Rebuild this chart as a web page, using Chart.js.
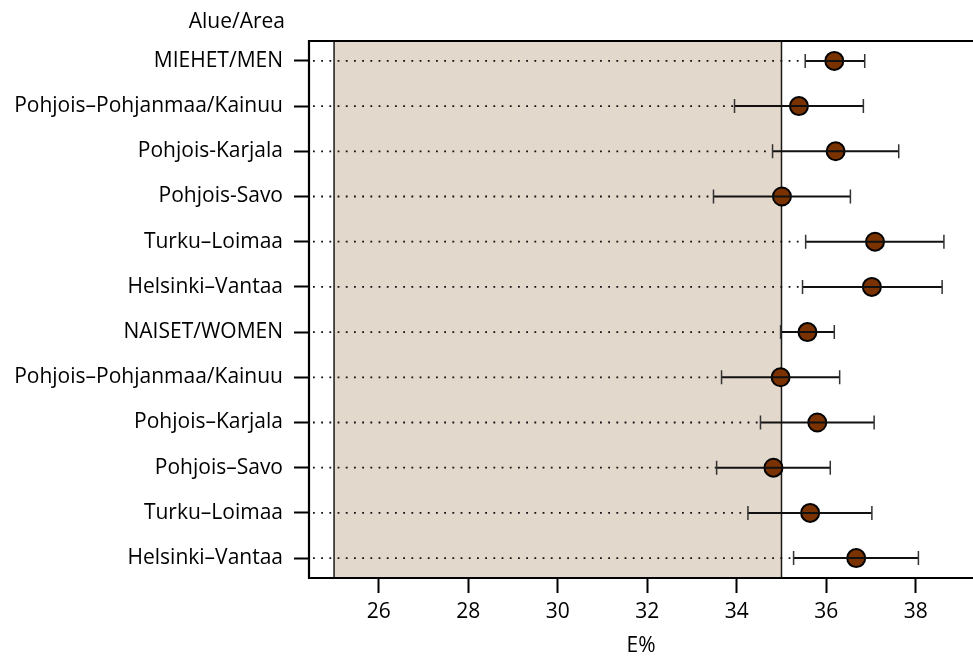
<!DOCTYPE html>
<html>
<head>
<meta charset="utf-8">
<script src="https://cdn.jsdelivr.net/npm/chart.js@4.4.1/dist/chart.umd.min.js"></script>
<style>
  body { margin: 0; background: #fff; }
  #wrap { width: 973px; height: 657px; }
</style>
</head>
<body>
<div id="wrap"><canvas id="dotChart" width="973" height="657"></canvas></div>
<script>
const categories = [
    'MIEHET/MEN',
    'Pohjois\u2013Pohjanmaa/Kainuu',
    'Pohjois-Karjala',
    'Pohjois-Savo',
    'Turku\u2013Loimaa',
    'Helsinki\u2013Vantaa',
    'NAISET/WOMEN',
    'Pohjois\u2013Pohjanmaa/Kainuu',
    'Pohjois\u2013Karjala',
    'Pohjois\u2013Savo',
    'Turku\u2013Loimaa',
    'Helsinki\u2013Vantaa'
];
const means = [36.18, 35.39, 36.21, 35.01, 37.09, 37.02, 35.58, 34.98, 35.80, 34.82, 35.64, 36.67];
const lower = [35.53, 33.95, 34.80, 33.48, 35.54, 35.47, 34.98, 33.66, 34.53, 33.55, 34.25, 35.27];
const upper = [36.86, 36.83, 37.62, 36.54, 38.63, 38.59, 36.18, 36.30, 37.07, 36.09, 37.02, 38.06];
const xTicks = [26, 28, 30, 32, 34, 36, 38];
const refBand = [25, 35];

const FONT = "'Open Sans', sans-serif";

// shaded reference band, dotted guides and the frame
const backdrop = {
    id: 'backdrop',
    beforeDatasetsDraw(chart) {
        const { ctx, chartArea: a, scales: { x, y } } = chart;
        const x0 = x.getPixelForValue(refBand[0]);
        const x1 = x.getPixelForValue(refBand[1]);
        ctx.save();
        ctx.fillStyle = '#e3d8cc';
        ctx.fillRect(x0, a.top, x1 - x0, a.bottom - a.top);
        ctx.strokeStyle = '#1a1a1a';
        ctx.lineWidth = 1.5;
        ctx.beginPath();
        ctx.moveTo(x0, a.top); ctx.lineTo(x0, a.bottom);
        ctx.moveTo(x1, a.top); ctx.lineTo(x1, a.bottom);
        ctx.stroke();

        // dotted line from the left edge to the lower limit
        ctx.strokeStyle = '#111';
        ctx.lineWidth = 1.8;
        ctx.setLineDash([1.8, 6.4]);
        means.forEach((m, i) => {
            const py = y.getPixelForValue(i);
            ctx.beginPath();
            ctx.moveTo(a.left + 4, py);
            ctx.lineTo(x.getPixelForValue(lower[i]), py);
            ctx.stroke();
        });
        ctx.restore();
    },
    afterDatasetsDraw(chart) {
        const { ctx, chartArea: a, scales: { x, y } } = chart;
        ctx.save();
        // confidence intervals on top of the points
        means.forEach((m, i) => {
            const py = y.getPixelForValue(i);
            const lx = x.getPixelForValue(lower[i]);
            const ux = x.getPixelForValue(upper[i]);
            ctx.strokeStyle = '#111';
            ctx.lineWidth = 2;
            ctx.beginPath();
            ctx.moveTo(lx, py); ctx.lineTo(ux, py);
            ctx.stroke();
            ctx.strokeStyle = '#333';
            ctx.lineWidth = 1.5;
            ctx.beginPath();
            ctx.moveTo(lx, py - 7); ctx.lineTo(lx, py + 7);
            ctx.moveTo(ux, py - 7); ctx.lineTo(ux, py + 7);
            ctx.stroke();
        });
        // frame: top, left, bottom (runs off the right side)
        ctx.strokeStyle = '#000';
        ctx.lineWidth = 2.2;
        ctx.beginPath();
        ctx.moveTo(chart.width, a.top);
        ctx.lineTo(a.left, a.top);
        ctx.lineTo(a.left, a.bottom);
        ctx.lineTo(chart.width, a.bottom);
        ctx.stroke();
        // header over the labels
        ctx.fillStyle = '#000';
        ctx.font = '21px ' + FONT;
        ctx.textAlign = 'right';
        ctx.textBaseline = 'middle';
        ctx.fillText('Alue/Area', 285, 22);
        ctx.restore();
    }
};

const ctx = document.getElementById('dotChart').getContext('2d');
new Chart(ctx, {
    type: 'scatter',
    data: {
        datasets: [{
            data: means.map((m, i) => ({ x: m, y: i })),
            backgroundColor: '#7a3300',
            borderColor: '#000',
            borderWidth: 2,
            pointRadius: 9,
            pointHoverRadius: 9
        }]
    },
    options: {
        responsive: false,
        animation: false,
        events: [],
        layout: { autoPadding: false, padding: { top: 41, right: 0, left: 0, bottom: 0 } },
        plugins: {
            legend: { display: false },
            tooltip: { enabled: false }
        },
        scales: {
            x: {
                type: 'linear',
                min: 24.44,
                max: 39.28,
                afterBuildTicks: s => { s.ticks = xTicks.map(v => ({ value: v })); },
                afterFit: s => { s.height = 79; s.paddingLeft = 0; s.paddingRight = 0; },
                border: { display: false },
                grid: {
                    drawOnChartArea: false,
                    drawTicks: true,
                    tickLength: 15,
                    tickWidth: 2,
                    tickColor: '#000'
                },
                ticks: {
                    autoSkip: false,
                    maxRotation: 0,
                    padding: 6,
                    color: '#000',
                    font: { family: FONT, size: 21 }
                },
                title: {
                    display: true,
                    text: 'E%',
                    color: '#000',
                    padding: { top: 0, bottom: 0 },
                    font: { family: FONT, size: 21, lineHeight: 1 }
                }
            },
            y: {
                type: 'linear',
                reverse: true,
                min: -0.44,
                max: 11.44,
                afterBuildTicks: s => { s.ticks = categories.map((c, i) => ({ value: i })); },
                afterFit: s => { s.width = 309; s.paddingTop = 0; s.paddingBottom = 0; },
                border: { display: false },
                grid: {
                    drawOnChartArea: false,
                    drawTicks: true,
                    tickLength: 15,
                    tickWidth: 2,
                    tickColor: '#000'
                },
                ticks: {
                    autoSkip: false,
                    padding: 11,
                    color: '#000',
                    font: { family: FONT, size: 21 },
                    callback: v => categories[v]
                }
            }
        }
    },
    plugins: [backdrop]
});
</script>
</body>
</html>
